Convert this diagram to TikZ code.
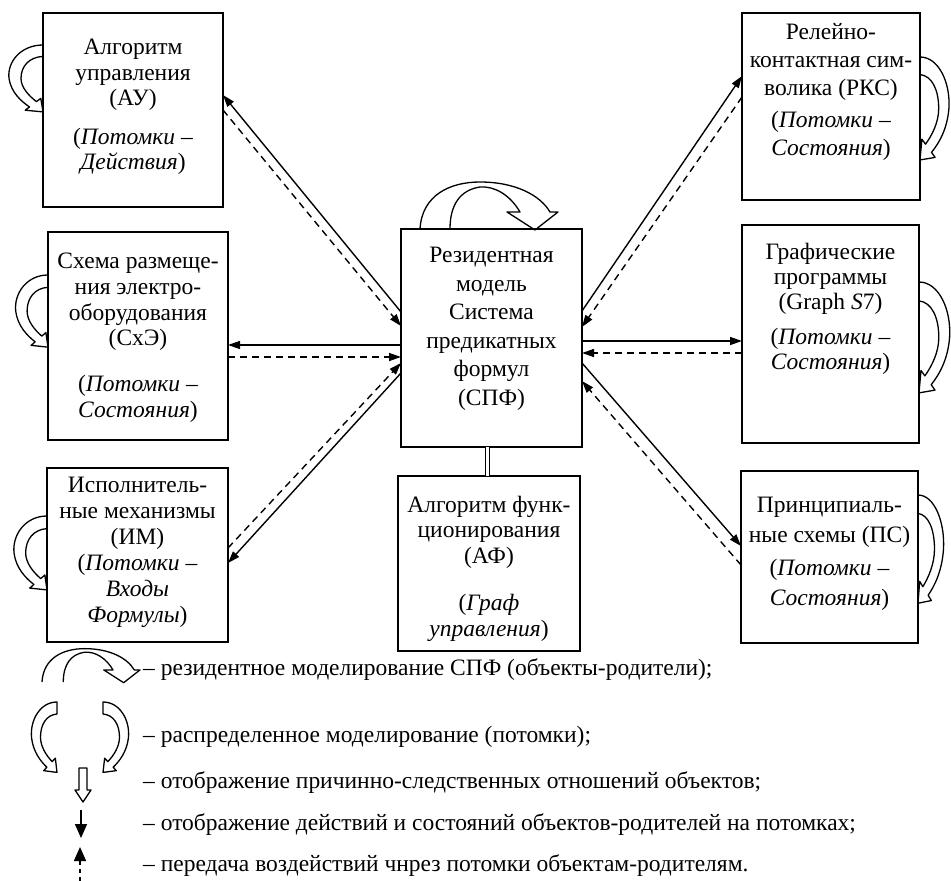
\documentclass[tikz,border=0pt]{standalone}
\usepackage{fontspec}
\setmainfont{Liberation Serif}
\usetikzlibrary{arrows.meta,calc}
\tikzset{
  box/.style={draw, line width=1.4pt, inner sep=0pt, outer sep=0pt},
  boxtext/.style={align=center, anchor=north, inner sep=0pt, font=\fontsize{23.5}{#1}\selectfont},
  boxtext/.default=27,
  legtext/.style={anchor=west, inner sep=0pt, font=\fontsize{23.5}{27}\selectfont},
  solidcon/.style={line width=1.4pt, -{Triangle[length=12pt,width=8pt]}},
  dashcon/.style={line width=1.4pt, dash pattern=on 7pt off 5pt, -{Triangle[length=12pt,width=8pt]}},
  symline/.style={line width=1.3pt, line join=round},
  loopshape/.pic={
    \draw[symline] (0,0) .. controls (22,0) and (36,22) .. (34,44)
      .. controls (32,62) and (22,74) .. (13.5,81.5) -- (17.8,85.8) -- (0,88)
      -- (2.2,70.2) -- (6.5,74.5) .. controls (14,67) and (22,56) .. (22,44)
      .. controls (22,28) and (14,16) .. (0,15);
  },
  loopclosed/.pic={
    \draw[symline] (0,0) .. controls (22,0) and (36,22) .. (34,44)
      .. controls (32,62) and (22,74) .. (13.5,81.5) -- (17.8,85.8) -- (0,88)
      -- (2.2,70.2) -- (6.5,74.5) .. controls (14,67) and (22,56) .. (22,44)
      .. controls (22,28) and (14,16) .. (0,15) -- cycle;
  },
  resshape/.pic={
    \draw[symline] (0,0) .. controls (2,-34) and (30,-47) .. (60,-47)
      .. controls (95,-47) and (120,-34) .. (130,-17) -- (138,-17) -- (115,1)
      -- (87,-17) -- (100,-17) .. controls (90,-34) and (75,-43) .. (60,-42)
      .. controls (40,-39) and (30,-24) .. (30,0);
  }
}
\begin{document}
\begin{tikzpicture}[x=1pt,y=-1pt]
\useasboundingbox (0,0) rectangle (951,881);

% boxes
\node[box, minimum width=180, minimum height=194] (au) at (133,110) {};
\node[box, minimum width=180, minimum height=208] (sxe) at (138,336) {};
\node[box, minimum width=181, minimum height=174] (im) at (137.5,555) {};
\node[box, minimum width=181, minimum height=218] (spf) at (491.5,338) {};
\node[box, minimum width=182, minimum height=175] (af) at (489,563.5) {};
\node[box, minimum width=178, minimum height=187] (rkc) at (831,106.5) {};
\node[box, minimum width=177, minimum height=218] (gr) at (830.5,334) {};
\node[box, minimum width=177, minimum height=172] (ps) at (829.5,557) {};

% texts
\node[boxtext=25.5] (aut) at ($(au.north)+(0,23.5)$)
  {\strut Алгоритм\\управления\\(АУ)\\[13pt](\textit{Потомки –}\\\textit{Действия})};
\node[boxtext=25.7] (sxet) at ($(sxe.north)+(0,18.5)$)
  {\strut Схема размеще-\\ния электро-\\оборудования\\(СхЭ)\\[20pt](\textit{Потомки –}\\\textit{Состояния})};
\node[boxtext=26] (imt) at ($(im.north)+(0,6.5)$)
  {\strut Исполнитель-\\ные механизмы\\(ИМ)\\(\textit{Потомки –}\\\textit{Входы}\\\textit{Формулы})};
\node[boxtext=28.5] (spft) at ($(spf.north)+(0,13.5)$)
  {\strut Резидентная\\модель\\Система\\предикатных\\формул\\(СПФ)};
\node[boxtext=25.5] (aft) at ($(af.north)+(0,18)$)
  {\strut Алгоритм функ-\\ционирования\\(АФ)\\[22pt](\textit{Граф}\\\textit{управления})};
\node[boxtext=28] (rkct) at ($(rkc.north)+(0,6.5)$)
  {\strut Релейно-\\контактная сим-\\волика (РКС)\\[4pt](\textit{Потомки –}\\\textit{Состояния})};
\node[boxtext=25] (grt) at ($(gr.north)+(0,16.5)$)
  {\strut Графические\\программы\\(Graph \textit{S}7)\\[10pt](\textit{Потомки –}\\\textit{Состояния})};
\node[boxtext=30] (pst) at ($(ps.north)+(0,20.5)$)
  {\strut Принципиаль-\\ные схемы (ПС)\\[3pt](\textit{Потомки –}\\\textit{Состояния})};

% connectors AU
\draw[solidcon] ($(spf.north west)+(0,83)$) -- ($(au.north east)+(0,82)$);
\draw[dashcon] ($(au.north east)+(0,97)$) -- ($(spf.north west)+(0,97)$);
% SxE
\draw[solidcon] ($(spf.north west)+(0,116)$) -- ($(sxe.north east)+(0,113)$);
\draw[dashcon] ($(sxe.north east)+(0,125)$) -- ($(spf.north west)+(0,128)$);
% IM
\draw[solidcon] ($(spf.north west)+(0,144)$) -- ($(im.north east)+(0,95)$);
\draw[dashcon] ($(im.north east)+(0,80)$) -- ($(spf.north west)+(0,134)$);
% RKC
\draw[solidcon] ($(spf.north east)+(0,82)$) -- ($(rkc.north west)+(0,63)$);
\draw[dashcon] ($(rkc.north west)+(0,84)$) -- ($(spf.north east)+(0,98)$);
% Graph
\draw[solidcon] ($(spf.north east)+(0,112)$) -- ($(gr.north west)+(0,116)$);
\draw[dashcon] ($(gr.north west)+(0,128)$) -- ($(spf.north east)+(0,124)$);
% PS
\draw[solidcon] ($(spf.north east)+(0,134)$) -- ($(ps.north west)+(0,75)$);
\draw[dashcon] ($(ps.north west)+(0,94)$) -- ($(spf.north east)+(0,152)$);
% SPF - AF
\coordinate (dl) at ($(spf.south)+(-4,0)$);
\draw[line width=1.1pt, double, double distance=3.5pt] (dl) -- (dl |- af.north);

% self loops
\pic[xscale=-1, yscale=0.76] at ($(au.north west)+(0,32)$) {loopshape};
\pic[xscale=-0.95, yscale=0.82] at ($(sxe.north west)+(0,43)$) {loopshape};
\pic[xscale=-0.97, yscale=0.84] at ($(im.north west)+(0,48)$) {loopshape};
\pic[xscale=0.85, yscale=1.17] at ($(rkc.north east)+(0,44)$) {loopshape};
\pic[xscale=0.9, yscale=1.26] at ($(gr.north east)+(0,57)$) {loopshape};
\pic[xscale=0.75, yscale=1.23] at ($(ps.north east)+(0,24)$) {loopshape};
\pic at ($(spf.north west)+(19,0)$) {resshape};

% legend
\pic[scale=0.71] at (42,682) {resshape};
\pic[xscale=-0.75, yscale=0.8] at (57,702) {loopclosed};
\pic[xscale=0.75, yscale=0.8] at (103,702) {loopclosed};
\draw[symline] (79,768) -- (87,768) -- (87,790) -- (91,790) -- (83,802) -- (75,790) -- (79,790) -- cycle;
\draw[line width=1.5pt, -{Triangle[length=14pt,width=12pt]}] (81,810) -- (81,838);
\draw[line width=1.5pt, dash pattern=on 4pt off 4pt, -{Triangle[length=14pt,width=12pt]}] (80,881) -- (80,847);

\node[legtext] (l1) at (143,670) {– резидентное моделирование СПФ (объекты-родители);};
\node[legtext] (l2) at (143,737) {– распределенное моделирование (потомки);};
\node[legtext] (l3) at (143,783) {– отображение причинно-следственных отношений объектов;};
\node[legtext] (l4) at (143,825) {– отображение действий и состояний объектов-родителей на потомках;};
\node[legtext] (l5) at (143,866) {– передача воздействий чнрез потомки объектам-родителям.};
\end{tikzpicture}
\end{document}
